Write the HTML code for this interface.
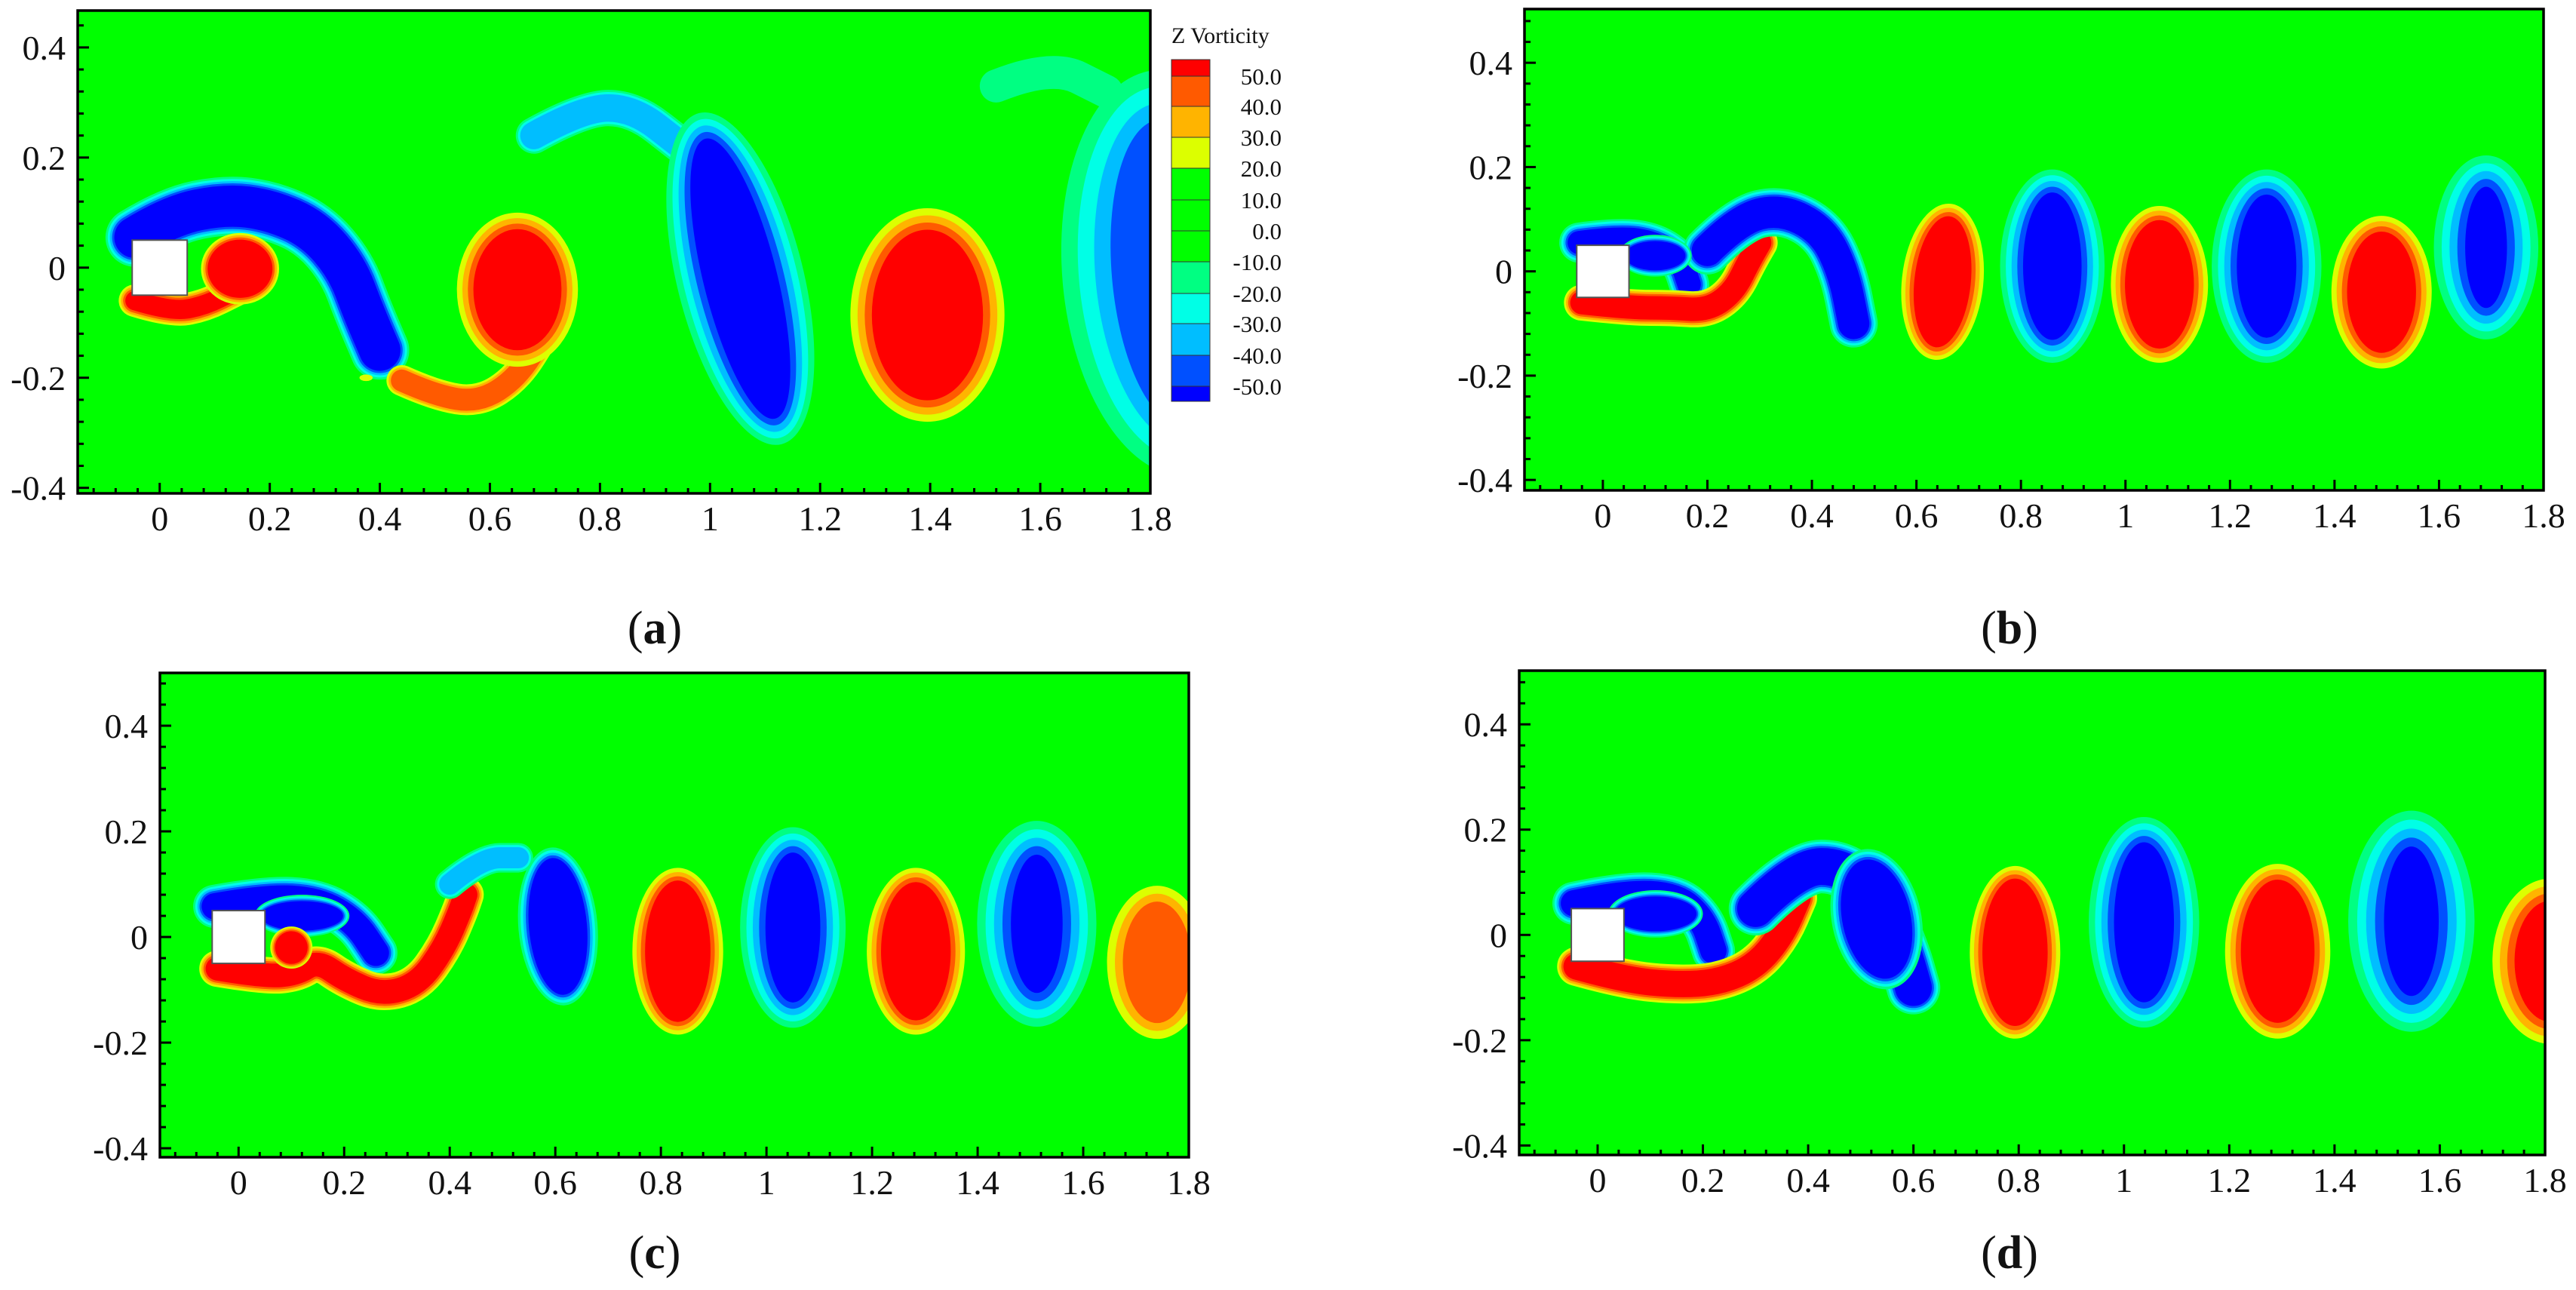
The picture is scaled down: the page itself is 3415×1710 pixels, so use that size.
<!DOCTYPE html>
<html><head><meta charset="utf-8"><title>Z Vorticity contours</title>
<style>
html,body{margin:0;padding:0;background:#fff;}
svg{display:block;}
text{font-family:"Liberation Serif",serif;fill:#111;}
</style></head>
<body>
<svg id="fig" width="3415" height="1710" viewBox="0 0 3415 1710" xmlns="http://www.w3.org/2000/svg">
<rect width="3415" height="1710" fill="#fff"/>
</svg>
<script>
// ---- shared data ----
const legendLabels=["50.0","40.0","30.0","20.0","10.0","0.0","-10.0","-20.0","-30.0","-40.0","-50.0"];
const legendColors=["#ff0000","#ff5a00","#ffb400","#dcff00","#00ff00","#00ff00","#00ff00","#00ff82","#00ffe6","#00beff","#0050ff","#0000ff"];
const posColors=["#dcff00","#ffb400","#ff5a00","#ff0000"];
const negColors=["#00ff82","#00ffe6","#00beff","#0050ff","#0000ff"];
const xTickValues=[0,0.2,0.4,0.6,0.8,1,1.2,1.4,1.6,1.8];
const xTickLabels=["0","0.2","0.4","0.6","0.8","1","1.2","1.4","1.6","1.8"];
const yTickValues=[-0.4,-0.2,0,0.2,0.4];
const yTickLabels=["-0.4","-0.2","0","0.2","0.4"];

// ---- panel (a) ----
const aBlobX=[0.65,1.395,1.055,1.84,0.146,0.375];
const aBlobY=[-0.04,-0.086,-0.02,-0.01,-0.002,-0.2];
const aBlobRX=[0.11,0.14,0.115,0.2,0.071,0.012];
const aBlobRY=[0.14,0.194,0.31,0.37,0.065,0.006];
const aBlobLevel=[4,4,-5,-4,4,1];
const aBlobInset=[0.01,0.013,0.012,0.03,0.004,0];
const aBlobRot=[0,0,-14,-5,0,0];
const aStreamPts=[
 [-0.045,0.055,0.02,0.095,0.12,0.115,0.2,0.105,0.28,0.07,0.34,0.0,0.37,-0.08,0.4,-0.15],
 [-0.045,-0.06,0.02,-0.08,0.08,-0.07,0.14,-0.04],
 [0.44,-0.205,0.5,-0.232,0.58,-0.245,0.65,-0.2,0.7,-0.12],
 [0.68,0.24,0.77,0.29,0.86,0.29,0.95,0.22],
 [1.52,0.33,1.62,0.37,1.72,0.32]];
const aStreamW=[0.075,0.035,0.04,0.05,0.06];
const aStreamLevel=[-5,4,3,-3,-1];

// ---- panel (b) ----
const bBlobX=[0.65,0.86,1.065,1.27,1.49,1.69,0.1];
const bBlobY=[-0.02,0.01,-0.025,0.01,-0.04,0.046,0.03];
const bBlobRX=[0.078,0.1,0.093,0.105,0.096,0.1,0.07];
const bBlobRY=[0.15,0.185,0.15,0.185,0.146,0.176,0.04];
const bBlobLevel=[4,-5,4,-5,4,-5,-5];
const bBlobInset=[0.008,0.011,0.009,0.012,0.01,0.015,0.003];
const bBlobRot=[6,0,0,0,0,0,0];
const bStreamPts=[
 [-0.045,0.055,0.03,0.065,0.1,0.055,0.15,0.02,0.165,-0.025],
 [-0.04,-0.06,0.05,-0.07,0.13,-0.07,0.2,-0.075,0.25,-0.04,0.28,0.02,0.3,0.055],
 [0.2,0.04,0.26,0.1,0.34,0.12,0.42,0.08,0.46,0.0,0.48,-0.1]];
const bStreamW=[0.045,0.045,0.06];
const bStreamLevel=[-5,4,-5];

// ---- panel (c) ----
const cBlobX=[0.605,0.832,1.05,1.283,1.512,1.74,0.12,0.1];
const cBlobY=[0.02,-0.027,0.018,-0.027,0.025,-0.048,0.04,-0.02];
const cBlobRX=[0.075,0.086,0.1,0.093,0.113,0.095,0.09,0.04];
const cBlobRY=[0.15,0.158,0.19,0.158,0.195,0.145,0.04,0.04];
const cBlobLevel=[-5,4,-5,4,-5,3,-5,4];
const cBlobInset=[0.005,0.008,0.012,0.009,0.016,0.015,0.003,0.003];
const cBlobRot=[-5,0,0,0,0,0,0,0];
const cStreamPts=[
 [-0.045,0.058,0.05,0.075,0.15,0.07,0.22,0.03,0.26,-0.03],
 [-0.04,-0.06,0.05,-0.075,0.11,-0.07,0.15,-0.045,0.2,-0.08,0.27,-0.11,0.34,-0.09,0.39,-0.02,0.42,0.05,0.43,0.08],
 [0.4,0.1,0.46,0.15,0.53,0.15]];
const cStreamW=[0.05,0.045,0.04];
const cStreamLevel=[-5,4,-3];

// ---- panel (d) ----
const dBlobX=[0.53,0.793,1.038,1.292,1.546,1.81,0.11];
const dBlobY=[0.03,-0.033,0.024,-0.031,0.026,-0.05,0.04];
const dBlobRX=[0.085,0.086,0.105,0.1,0.12,0.11,0.09];
const dBlobRY=[0.135,0.164,0.2,0.166,0.21,0.157,0.045];
const dBlobLevel=[-5,4,-5,4,-5,4,-5];
const dBlobInset=[0.005,0.008,0.012,0.01,0.017,0.014,0.003];
const dBlobRot=[-12,0,0,0,0,0,0];
const dStreamPts=[
 [-0.045,0.06,0.05,0.08,0.15,0.075,0.2,0.03,0.22,-0.03],
 [-0.04,-0.06,0.05,-0.085,0.15,-0.095,0.23,-0.09,0.3,-0.06,0.35,0.0,0.38,0.07],
 [0.3,0.05,0.38,0.13,0.47,0.13,0.54,0.06,0.58,-0.03,0.6,-0.1]];
const dStreamW=[0.05,0.05,0.07];
const dStreamLevel=[-5,4,-5];

// ---- rendering ----
const NS="http://www.w3.org/2000/svg";
const svg=document.getElementById("fig");
function mk(tag,attrs,parent){const e=document.createElementNS(NS,tag);for(const k in attrs)e.setAttribute(k,attrs[k]);(parent||svg).appendChild(e);return e;}

const panels=[
 {id:"a",L:103,R:1525,T:14,B:654,x0:-0.149,x1:1.8,y0:-0.41,y1:0.467,capX:868,capY:853,
  bx:aBlobX,by:aBlobY,brx:aBlobRX,bry:aBlobRY,bl:aBlobLevel,bi:aBlobInset,br:aBlobRot,sp:aStreamPts,sw:aStreamW,sl:aStreamLevel},
 {id:"b",L:2021,R:3372,T:12,B:650,x0:-0.15,x1:1.8,y0:-0.42,y1:0.503,capX:2664,capY:853,
  bx:bBlobX,by:bBlobY,brx:bBlobRX,bry:bBlobRY,bl:bBlobLevel,bi:bBlobInset,br:bBlobRot,sp:bStreamPts,sw:bStreamW,sl:bStreamLevel},
 {id:"c",L:212,R:1576,T:892,B:1534,x0:-0.149,x1:1.8,y0:-0.417,y1:0.5,capX:868,capY:1681,
  bx:cBlobX,by:cBlobY,brx:cBlobRX,bry:cBlobRY,bl:cBlobLevel,bi:cBlobInset,br:cBlobRot,sp:cStreamPts,sw:cStreamW,sl:cStreamLevel},
 {id:"d",L:2014,R:3374,T:889,B:1531,x0:-0.149,x1:1.8,y0:-0.418,y1:0.502,capX:2664,capY:1681,
  bx:dBlobX,by:dBlobY,brx:dBlobRX,bry:dBlobRY,bl:dBlobLevel,bi:dBlobInset,br:dBlobRot,sp:dStreamPts,sw:dStreamW,sl:dStreamLevel}
];

function smoothPath(pts){
  let d="M"+pts[0][0]+" "+pts[0][1];
  if(pts.length===2) return d+" L"+pts[1][0]+" "+pts[1][1];
  for(let i=1;i<pts.length-1;i++){
    const mx=(pts[i][0]+pts[i+1][0])/2, my=(pts[i][1]+pts[i+1][1])/2;
    d+=" Q"+pts[i][0]+" "+pts[i][1]+" "+mx+" "+my;
  }
  const l=pts[pts.length-1];
  return d+" L"+l[0]+" "+l[1];
}

panels.forEach(p=>{
  const sx=v=>p.L+(v-p.x0)/(p.x1-p.x0)*(p.R-p.L);
  const sy=v=>p.B-(v-p.y0)/(p.y1-p.y0)*(p.B-p.T);
  const k=(p.R-p.L)/(p.x1-p.x0);
  const g=mk("g",{});
  
  
  const clip=mk("clipPath",{id:"clip-"+p.id},g);
  mk("rect",{x:p.L,y:p.T,width:p.R-p.L,height:p.B-p.T},clip);
  const field=mk("g",{"clip-path":"url(#clip-"+p.id+")"},g);
  
  
  mk("rect",{x:p.L,y:p.T,width:p.R-p.L,height:p.B-p.T,fill:"#00ff00"},field);
  p.sp.forEach((flat,si)=>{
    const pts=[];for(let i=0;i<flat.length;i+=2)pts.push([sx(flat[i]),sy(flat[i+1])]);
    const d=smoothPath(pts);const lv=p.sl[si];const n=Math.abs(lv);const e=0.004;
    for(let i=0;i<n;i++){
      const w=(p.sw[si]+(n-1-i)*2*e)*k;
      const path=mk("path",{d:d,fill:"none",stroke:lv>0?posColors[i]:negColors[i],"stroke-width":w,"stroke-linecap":"round","stroke-linejoin":"round"},field);
      
      
    }
  });
  p.bx.forEach((cx,bi)=>{
    const lv=p.bl[bi];const n=Math.abs(lv);
    for(let i=0;i<n;i++){
      const rx=(p.brx[bi]-i*p.bi[bi])*k, ry=(p.bry[bi]-i*p.bi[bi])*k;
      if(rx<=0||ry<=0)continue;
      const X=sx(cx),Y=sy(p.by[bi]);
      const el=mk("ellipse",{cx:X,cy:Y,rx:rx,ry:ry,fill:lv>0?posColors[i]:negColors[i],transform:"rotate("+p.br[bi]+" "+X+" "+Y+")"},field);
      
      
    }
  });
  const ob=mk("rect",{x:sx(-0.05),y:sy(0.05),width:sx(0.05)-sx(-0.05),height:sy(-0.05)-sy(0.05),fill:"#fff",stroke:"#555","stroke-width":2},field);
  
  
  const ticks=mk("g",{stroke:"#000","stroke-width":3},g);
  
  
  for(let i=-4;i<=45;i++){const v=i*0.04;if(v<=p.x0||v>p.x1+1e-9)continue;const X=sx(v);const maj=(i%5===0);mk("line",{x1:X,x2:X,y1:p.B,y2:p.B-(maj?14:7)},ticks);}
  for(let i=-11;i<=13;i++){const v=i*0.04;if(v<=p.y0||v>=p.y1)continue;const Y=sy(v);const maj=(i%5===0);mk("line",{x1:p.L,x2:p.L+(maj?15:8),y1:Y,y2:Y},ticks);}
  const fr=mk("rect",{x:p.L,y:p.T,width:p.R-p.L,height:p.B-p.T,fill:"none",stroke:"#000","stroke-width":3.5},g);
  
  
  xTickValues.forEach((v,i)=>{
    const t=mk("text",{x:sx(v),y:p.B+49,"font-size":46,"text-anchor":"middle"},g);t.textContent=xTickLabels[i];
    
    
  });
  yTickValues.forEach((v,i)=>{
    const t=mk("text",{x:p.L-16,y:sy(v)+16,"font-size":46,"text-anchor":"end"},g);t.textContent=yTickLabels[i];
    
    
  });
  const cap=mk("text",{x:p.capX,y:p.capY,"font-size":62,"text-anchor":"middle"},g);
  cap.innerHTML='(<tspan font-weight="bold">'+p.id+'</tspan>)';
  
  
});

const lg=mk("g",{});


const lt=mk("text",{x:1553,y:57,"font-size":30},lg);lt.textContent="Z Vorticity";


const bounds=[79,101,141,182,223,265,306,347,389,429,471,512,532];
legendColors.forEach((c,i)=>{
  const r=mk("rect",{x:1553,y:bounds[i],width:51,height:bounds[i+1]-bounds[i],fill:c,stroke:"#333","stroke-width":1},lg);
  
  
});
legendLabels.forEach((s,i)=>{
  const t=mk("text",{x:1699,y:bounds[i+1]+11,"font-size":31,"text-anchor":"end"},lg);t.textContent=s;
  
  
});
</script>
</body></html>
